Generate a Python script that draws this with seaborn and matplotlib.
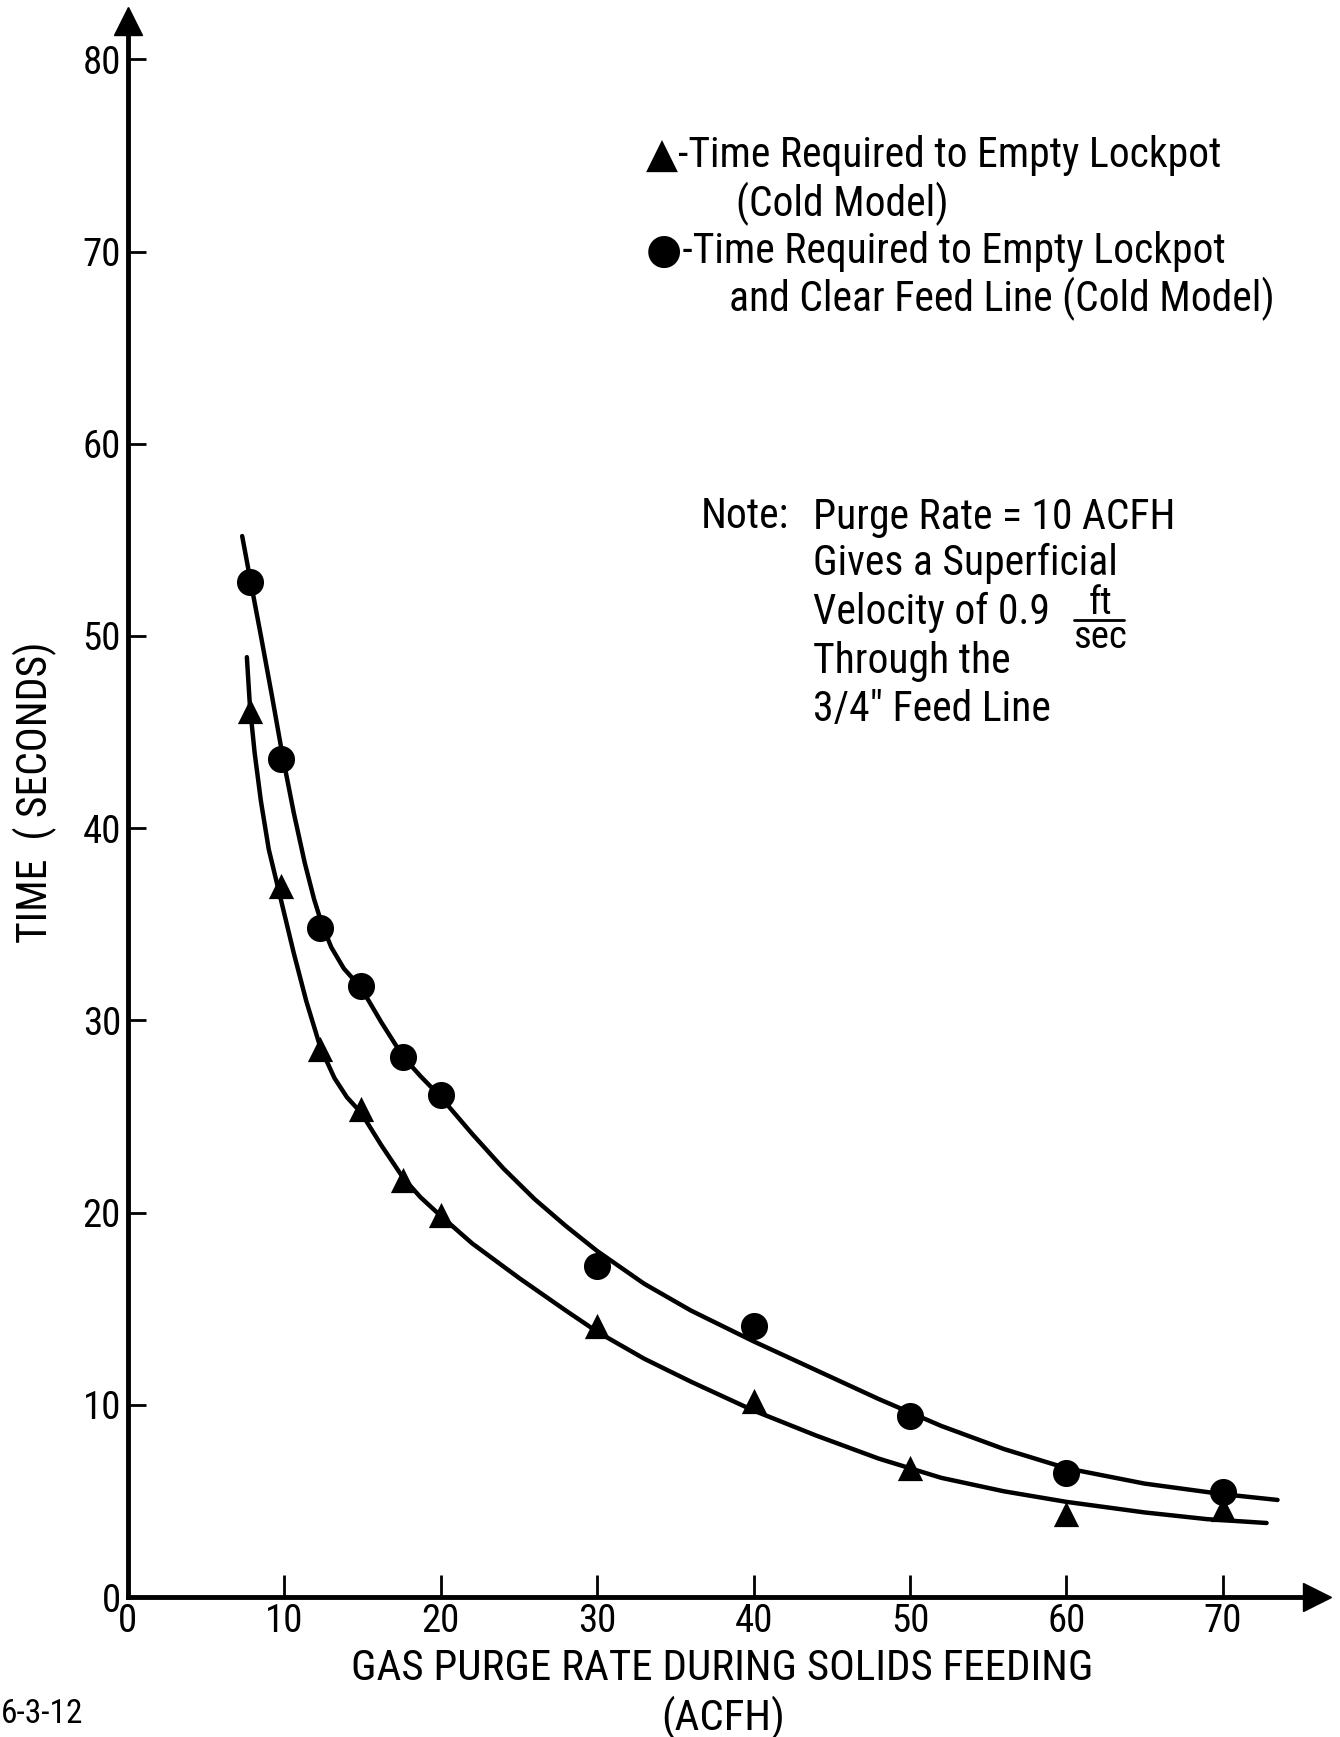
import numpy as np
import pandas as pd
import seaborn as sns
import matplotlib.pyplot as plt
from matplotlib import font_manager

# measured points (gas purge rate ACFH -> time in seconds)
purge_rate = [7.8, 9.8, 12.3, 14.9, 17.6, 20, 30, 40, 50, 60, 70]
time_lockpot = [46.1, 37.0, 28.5, 25.4, 21.7, 19.9, 14.1, 10.2, 6.7, 4.3, 4.6]
time_lockpot_line = [52.8, 43.6, 34.8, 31.8, 28.1, 26.1, 17.2, 14.1, 9.4, 6.45, 5.45]

# hand drawn fitted curves
curve_lockpot_x = [7.6, 7.8, 8.1, 8.5, 9.0, 9.8, 10.6, 11.4, 12.3, 13.2, 14.0, 14.9, 16.2, 17.6,
                   18.7, 19.9, 22, 25, 28, 30, 33, 36, 40, 44, 48, 52, 56, 60, 65, 69, 72.8]
curve_lockpot_y = [48.9, 46.3, 43.9, 41.4, 38.9, 36.2, 33.5, 31.0, 28.6, 27.0, 26.0, 25.2, 23.5, 21.8,
                   20.8, 19.9, 18.4, 16.6, 14.9, 13.8, 12.4, 11.2, 9.7, 8.4, 7.2, 6.2, 5.5, 4.95, 4.4,
                   4.05, 3.85]
curve_line_x = [7.3, 7.85, 8.5, 9.2, 9.9, 10.6, 11.3, 11.9, 12.4, 13.0, 13.8, 14.9, 16.2, 17.6, 18.7,
                19.9, 22, 24, 26, 28, 30, 33, 36, 40, 44, 48, 52, 56, 60, 65, 70, 73.5]
curve_line_y = [55.2, 52.8, 50.0, 46.9, 43.7, 40.8, 38.2, 36.3, 35.0, 33.8, 32.7, 31.7, 29.9, 28.1, 27.1,
                26.1, 24.1, 22.3, 20.7, 19.3, 18.0, 16.3, 14.9, 13.3, 11.8, 10.3, 8.9, 7.7, 6.7, 5.9,
                5.35, 5.05]

x_ticks = [0, 10, 20, 30, 40, 50, 60, 70]
y_ticks = [0, 10, 20, 30, 40, 50, 60, 70, 80]

W, H = 1340, 1737

sns.set_style('ticks')
installed = {f.name for f in font_manager.fontManager.ttflist}
main_font = 'Roboto'
for cand in ['Liberation Sans Narrow', 'Roboto Condensed', 'Open Sans Condensed', 'DejaVu Sans Condensed']:
    if cand in installed:
        main_font = cand
        break
fonts = [main_font, 'DejaVu Sans']
plt.rcParams['font.family'] = fonts
plt.rcParams['text.color'] = 'black'


def fx(px):
    return px / W


def fy(py):
    return 1 - py / H


fig = plt.figure(figsize=(W / 100, H / 100), dpi=100)
ax = fig.add_axes([fx(128), 1 - 1597 / H, 76 * 15.64 / W, 82 * 19.22 / H])

df_pts = pd.DataFrame({'x': purge_rate, 'tri': time_lockpot, 'circ': time_lockpot_line})
df_c1 = pd.DataFrame({'x': curve_lockpot_x, 'y': curve_lockpot_y})
df_c2 = pd.DataFrame({'x': curve_line_x, 'y': curve_line_y})

sns.lineplot(data=df_c1, x='x', y='y', sort=False, estimator=None, color='black', lw=3.2, ax=ax)
sns.lineplot(data=df_c2, x='x', y='y', sort=False, estimator=None, color='black', lw=3.2, ax=ax)
sns.scatterplot(data=df_pts, x='x', y='tri', marker='^', s=330, color='black', edgecolor='black',
                linewidth=0, ax=ax, zorder=5)
sns.scatterplot(data=df_pts, x='x', y='circ', marker='o', s=380, color='black', edgecolor='black',
                linewidth=0, ax=ax, zorder=5)

ax.set_xlim(0, 76)
ax.set_ylim(0, 82)
ax.set_xticks(x_ticks)
ax.set_yticks(y_ticks)
ax.tick_params(axis='both', direction='in', width=2, labelsize=28, colors='black')
ax.tick_params(axis='y', length=13, pad=5)
ax.tick_params(axis='x', length=16, pad=4)
ax.set_xlabel('')
ax.set_ylabel('')
for s in ['top', 'right']:
    ax.spines[s].set_visible(False)
for s in ['left', 'bottom']:
    ax.spines[s].set_linewidth(3.5)
    ax.spines[s].set_color('black')

# arrow heads on the axes
ax.plot(1, 0, marker='>', ms=20, color='black', transform=ax.transAxes, clip_on=False)
ax.plot(0, 1, marker='^', ms=20, color='black', transform=ax.transAxes, clip_on=False)

fs = 30
# legend block
fig.text(fx(646), fy(155), '▲-Time Required to Empty Lockpot', fontsize=fs, va='center', family=fonts)
fig.text(fx(736), fy(204), '(Cold Model)', fontsize=fs, va='center', family=fonts)
fig.text(fx(646), fy(252), '●-Time Required to Empty Lockpot', fontsize=fs, va='center', family=fonts)
fig.text(fx(729), fy(299), 'and Clear Feed Line (Cold Model)', fontsize=fs, va='center', family=fonts)

# note block
fig.text(fx(701), fy(517), 'Note:', fontsize=fs, va='center', family=fonts)
fig.text(fx(813), fy(517), 'Purge Rate = 10 ACFH', fontsize=fs, va='center', family=fonts)
fig.text(fx(813), fy(563), 'Gives a Superficial', fontsize=fs, va='center', family=fonts)
fig.text(fx(813), fy(612), 'Velocity of 0.9', fontsize=fs, va='center', family=fonts)
fig.text(fx(1100), fy(603), 'ft', fontsize=28, va='center', ha='center', family=fonts)
fig.text(fx(1100), fy(638), 'sec', fontsize=28, va='center', ha='center', family=fonts)
fig.add_artist(plt.Line2D([fx(1074), fx(1124)], [fy(620), fy(620)], color='black', lw=2))
fig.text(fx(813), fy(661), 'Through the', fontsize=fs, va='center', family=fonts)
fig.text(fx(813), fy(709), '3/4\u2033 Feed Line', fontsize=fs, va='center', family=fonts)

# axis titles
fig.text(fx(722), fy(1668), 'GAS PURGE RATE DURING SOLIDS FEEDING', fontsize=31, ha='center', va='center',
         family=fonts)
fig.text(fx(723), fy(1718), '(ACFH)', fontsize=31, ha='center', va='center', family=fonts)
fig.text(fx(35), fy(792), 'TIME  ( SECONDS)', fontsize=30, ha='center', va='center', rotation=90,
         family=fonts)
fig.text(fx(1), fy(1714), '6-3-12', fontsize=24, ha='left', va='center', family=fonts)

fig.savefig('out.png', dpi=100, facecolor='white')
